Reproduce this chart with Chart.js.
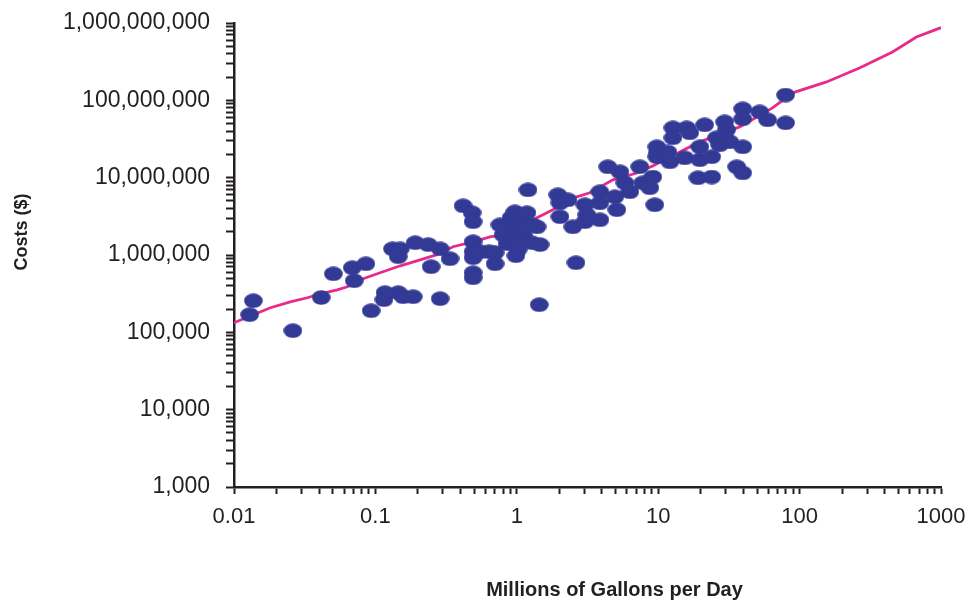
<!DOCTYPE html>
<html><head><meta charset="utf-8">
<script src="https://cdn.jsdelivr.net/npm/chart.js@4/dist/chart.umd.min.js"></script>
<style>html,body{margin:0;padding:0;background:#fff;overflow:hidden}canvas{display:block}</style>
</head><body>
<canvas id="c" width="971" height="602" style="width:971px;height:602px"></canvas>
<script>
// Observed plants: flow (million gallons per day) and cost ($)
const gpd = [0.0137,0.0129,0.0261,0.0414,0.0504,0.0686,0.0708,0.0857,0.0933,0.115,
  0.117,0.145,0.132,0.150,0.145,0.157,0.185,0.191,0.236,0.287,
  0.337,0.248,0.287,0.417,0.483,0.491,0.491,0.491,0.491,0.491,
  0.491,0.550,0.637,0.702,1.20,0.760,0.80,0.853,0.910,0.955,
  0.97,0.986,1.02,0.986,1.07,1.11,1.18,1.39,1.28,1.46,
  1.44,1.95,2.02,2.30,2.02,2.49,3.03,3.13,3.03,3.87,
  3.87,3.87,5.10,4.94,4.40,5.36,5.81,6.30,7.41,7.78,
  9.16,8.73,9.46,9.93,2.62,9.78,9.78,11.7,12.1,12.7,
  15.9,12.7,16.7,15.4,19.7,19.7,21.3,23.9,19.1,23.9,
  29.5,30.5,29.5,25.9,27.2,32.1,39.6,35.9,39.6,39.6,
  39.6,52.2,59.4,79.6,79.6,0.702,1.28,1.00];
const costs = [256000,169000,105000,282000,571000,684000,464000,769000,190000,264000,
  325000,325000,1200000,1200000,948000,288000,288000,1440000,1360000,1200000,
  893000,704000,272000,4320000,3510000,2690000,1480000,1100000,920000,589000,
  507000,1100000,1100000,769000,6950000,2450000,1820000,1400000,3030000,2250000,
  3610000,1570000,1170000,977000,2690000,1820000,3510000,2310000,1440000,1360000,
  227000,6000000,4720000,5160000,3120000,2310000,4450000,3310000,2690000,6560000,
  4720000,2850000,3840000,5650000,13800000,11900000,8570000,6560000,13800000,8570000,
  10200000,7380000,4450000,20900000,793000,25000000,18600000,21500000,16000000,44000000,
  44000000,32700000,37900000,18000000,25000000,17000000,48100000,18600000,9940000,10200000,
  52600000,41500000,32700000,32700000,26500000,29000000,25000000,13800000,11500000,77400000,
  57500000,70800000,55800000,117000000,51100000,1070000,2450000,1360000];
// Cost curve
const fitGpd = [0.01,0.0137,0.0181,0.025,0.033,0.0407,0.0537,0.0633,0.0782,0.108,
  0.150,0.207,0.273,0.354,0.491,0.647,0.80,1.05,1.39,1.80,
  2.66,3.29,4.78,7.06,9.16,14.2,19.7,37.7,64.4,89.3,
  155,265,454,670,1000];
const fitCost = [133000,169000,208000,248000,280000,315000,355000,388000,478000,589000,
  725000,867000,1010000,1280000,1480000,1720000,1820000,2250000,3030000,3840000,
  5650000,6370000,9370000,11500000,14200000,21500000,29000000,45300000,79800000,125000000,
  173000000,262000000,422000000,659000000,870000000];
const xTickLabels = ['0.01','0.1','1','10','100','1000'];
const yTickLabels = ['1,000','10,000','100,000','1,000,000','10,000,000','100,000,000','1,000,000,000'];
const xTitle = 'Millions of Gallons per Day';
const yTitle = 'Costs ($)';

const axisColor = '#231f20';
const FONT = '"Liberation Sans", Arial, Helvetica, sans-serif';

const dot = document.createElement('canvas');
dot.width = 19; dot.height = 15;
const dctx = dot.getContext('2d');
dctx.fillStyle = '#333A95';
dctx.beginPath();
dctx.ellipse(9.5, 7.5, 9.3, 7.3, 0, 0, Math.PI * 2);
dctx.fill();

function decadeIndex(v, min) {
  const l = Math.log10(v), r = Math.round(l);
  if (Math.abs(l - r) > 1e-6) return -1;
  return r - Math.round(Math.log10(min));
}
function logTicks(scale) {
  const lo = Math.round(Math.log10(scale.min)), hi = Math.round(Math.log10(scale.max));
  const t = [];
  for (let e = lo; e < hi; e++) {
    for (let m = 1; m <= 9; m++) t.push({ value: m * Math.pow(10, e) });
  }
  t.push({ value: Math.pow(10, hi) });
  scale.ticks = t;
}

const titlePlugin = {
  id: 'titles',
  afterDraw(chart) {
    const ctx = chart.ctx, a = chart.chartArea;
    ctx.save();
    ctx.fillStyle = axisColor;
    ctx.textAlign = 'center';
    ctx.textBaseline = 'middle';
    ctx.font = 'bold 20px ' + FONT;
    ctx.fillText(xTitle, (a.left + a.right) / 2 + 27, chart.height - 12);
    ctx.translate(22, (a.top + a.bottom) / 2 - 23);
    ctx.rotate(-Math.PI / 2);
    ctx.font = 'bold 18px ' + FONT;
    ctx.fillText(yTitle, 0, 0);
    ctx.restore();
  }
};

new Chart(document.getElementById('c'), {
  type: 'scatter',
  data: {
    datasets: [
      {
        data: gpd.map((x, i) => ({ x: x, y: costs[i] })),
        pointStyle: dot,
        pointRadius: 9,
        showLine: false
      },
      {
        data: fitGpd.map((x, i) => ({ x: x, y: fitCost[i] })),
        showLine: true,
        borderColor: '#EA2A8B',
        borderWidth: 2.8,
        pointRadius: 0,
        fill: false,
        tension: 0
      }
    ]
  },
  options: {
    responsive: false,
    animation: false,
    devicePixelRatio: 1,
    layout: { padding: { top: 23, right: 30, left: 0, bottom: 0 } },
    plugins: { legend: { display: false }, tooltip: { enabled: false } },
    scales: {
      x: {
        type: 'logarithmic', min: 0.01, max: 1000,
        afterBuildTicks: logTicks,
        afterFit(s) { s.height = 115; s.paddingLeft = 0; s.paddingRight = 0; },
        border: { display: true, color: axisColor, width: 2.5 },
        grid: { drawOnChartArea: false, drawTicks: true, tickLength: 7, tickColor: axisColor, tickWidth: 2 },
        ticks: {
          autoSkip: false, maxRotation: 0, minRotation: 0, padding: 10, color: axisColor,
          font: { family: FONT, size: 22 },
          callback(v) { const i = decadeIndex(v, 0.01); return i >= 0 ? xTickLabels[i] : ''; }
        }
      },
      y: {
        type: 'logarithmic', min: 1000, max: 1e9,
        afterBuildTicks: logTicks,
        afterFit(s) { s.width = 234; s.paddingTop = 0; s.paddingBottom = 0; },
        border: { display: true, color: axisColor, width: 2.5 },
        grid: { drawOnChartArea: false, drawTicks: true, tickLength: 8, tickColor: axisColor, tickWidth: 2 },
        ticks: {
          autoSkip: false, padding: 16, color: axisColor,
          font: { family: FONT, size: 23 },
          callback(v) { const i = decadeIndex(v, 1000); return i >= 0 ? yTickLabels[i] : ''; }
        }
      }
    }
  },
  plugins: [titlePlugin]
});
</script>
</body></html>
